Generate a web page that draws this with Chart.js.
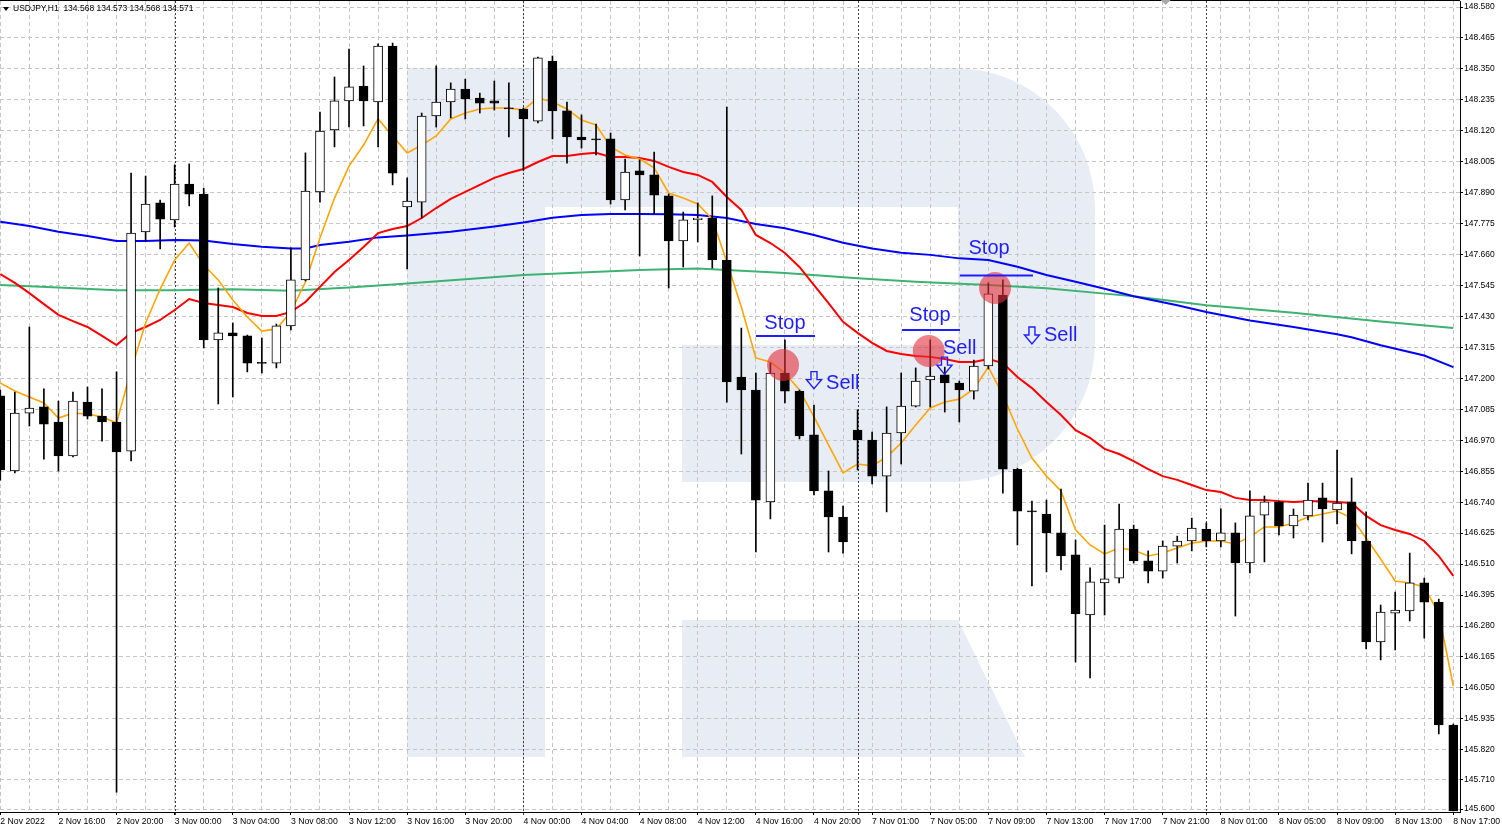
<!DOCTYPE html>
<html>
<head>
<meta charset="utf-8">
<title>USDJPY,H1</title>
<script src="https://cdn.jsdelivr.net/npm/chart.js@4.4.0/dist/chart.umd.min.js"></script>
<style>
  html, body { margin: 0; padding: 0; background: #fff; }
  #wrap { width: 1502px; height: 828px; }
</style>
</head>
<body>
<div id="wrap"><canvas id="chart" width="1502" height="828"></canvas></div>
<script>
// hourly bars, index 0 = 2 Nov 12:00 ... index 100 = 8 Nov 17:00
const opens = [
  147.135, 146.856, 147.071, 147.094, 147.038, 146.912, 147.112, 147.060, 147.038, 146.930,
  147.744, 147.852, 147.789, 147.922, 147.885, 147.343, 147.369, 147.358, 147.257, 147.257,
  147.395, 147.566, 147.893, 148.123, 148.231, 148.286, 148.227, 148.435, 147.837, 147.855,
  148.175, 148.227, 148.275, 148.242, 148.231, 148.205, 148.201, 148.156, 148.379, 148.194,
  148.097, 148.090, 148.090, 147.863, 147.971, 147.956, 147.878, 147.711, 147.789, 147.796,
  147.640, 147.205, 147.157, 146.741, 147.220, 147.153, 146.990, 146.782, 146.685, 147.008,
  146.971, 146.837, 146.997, 147.097, 147.194, 147.213, 147.183, 147.153, 147.246, 147.510,
  146.863, 146.707, 146.696, 146.626, 146.544, 146.321, 146.440, 146.458, 146.640, 146.522,
  146.484, 146.577, 146.596, 146.640, 146.596, 146.626, 146.514, 146.692, 146.741, 146.652,
  146.689, 146.756, 146.711, 146.741, 146.596, 146.221, 146.328, 146.336, 146.440, 146.369,
  145.912
];
const highs = [
  147.157, 147.149, 147.391, 147.161, 147.116, 147.149, 147.168, 147.161, 147.224, 147.963,
  147.952, 147.863, 147.993, 147.997, 147.907, 147.536, 147.406, 147.361, 147.350, 147.402,
  147.685, 148.038, 148.190, 148.320, 148.424, 148.361, 148.443, 148.446, 147.945, 148.186,
  148.361, 148.298, 148.312, 148.260, 148.305, 148.298, 148.205, 148.394, 148.398, 148.227,
  148.179, 148.145, 148.112, 148.015, 148.012, 148.041, 147.885, 147.818, 147.852, 147.878,
  148.208, 147.387, 147.220, 147.257, 147.343, 147.157, 147.101, 146.856, 146.726, 147.083,
  147.001, 147.094, 147.220, 147.239, 147.343, 147.242, 147.190, 147.268, 147.555, 147.566,
  146.867, 146.744, 146.748, 146.789, 146.600, 146.496, 146.655, 146.733, 146.655, 146.559,
  146.596, 146.614, 146.681, 146.663, 146.715, 146.663, 146.782, 146.763, 146.744, 146.715,
  146.811, 146.811, 146.934, 146.830, 146.704, 146.358, 146.406, 146.551, 146.458, 146.380,
  145.916
];
const lows = [
  146.822, 146.849, 147.023, 146.900, 146.856, 146.908, 147.049, 146.967, 145.663, 146.893,
  147.711, 147.681, 147.763, 147.841, 147.313, 147.105, 147.131, 147.224, 147.220, 147.239,
  147.380, 147.562, 147.855, 148.060, 148.134, 148.138, 148.060, 147.919, 147.607, 147.796,
  148.134, 148.168, 148.164, 148.186, 148.197, 148.097, 147.974, 148.149, 148.090, 148.000,
  148.056, 148.030, 147.848, 147.826, 147.655, 147.811, 147.536, 147.614, 147.707, 147.610,
  147.112, 146.919, 146.555, 146.678, 147.109, 146.975, 146.767, 146.555, 146.551, 146.860,
  146.808, 146.704, 146.882, 147.094, 147.094, 147.075, 147.038, 147.123, 147.235, 146.774,
  146.581, 146.429, 146.481, 146.488, 146.146, 146.087, 146.321, 146.440, 146.514, 146.440,
  146.458, 146.514, 146.559, 146.574, 146.574, 146.317, 146.477, 146.518, 146.618, 146.607,
  146.674, 146.592, 146.659, 146.548, 146.195, 146.154, 146.191, 146.299, 146.235, 145.879,
  145.593
];
const closes = [
  146.860, 147.071, 147.090, 147.030, 146.912, 147.116, 147.060, 147.038, 146.927, 147.740,
  147.848, 147.792, 147.922, 147.885, 147.343, 147.369, 147.358, 147.257, 147.256, 147.395,
  147.566, 147.896, 148.119, 148.231, 148.283, 148.231, 148.435, 147.963, 147.859, 148.175,
  148.227, 148.275, 148.238, 148.223, 148.223, 148.201, 148.164, 148.391, 148.194, 148.097,
  148.086, 148.086, 147.863, 147.967, 147.956, 147.881, 147.711, 147.789, 147.796, 147.640,
  147.187, 147.157, 146.748, 147.220, 147.153, 146.986, 146.782, 146.685, 146.592, 146.971,
  146.837, 146.997, 147.097, 147.190, 147.209, 147.183, 147.157, 147.246, 147.514, 146.863,
  146.707, 146.704, 146.626, 146.540, 146.325, 146.444, 146.455, 146.640, 146.522, 146.484,
  146.577, 146.596, 146.644, 146.596, 146.626, 146.514, 146.689, 146.741, 146.652, 146.692,
  146.748, 146.715, 146.737, 146.596, 146.221, 146.332, 146.339, 146.440, 146.369, 145.912,
  145.593
];

// moving averages
const maFast = [ // orange, one value per bar
  147.183, 147.153, 147.131, 147.109, 147.053, 147.071, 147.068, 147.057, 147.034, 147.231,
  147.406, 147.532, 147.640, 147.703, 147.621, 147.566, 147.491, 147.428, 147.376, 147.384,
  147.447, 147.558, 147.722, 147.870, 147.989, 148.067, 148.164, 148.101, 148.038, 148.067,
  148.101, 148.164, 148.186, 148.201, 148.205, 148.205, 148.197, 148.242, 148.227, 148.201,
  148.160, 148.142, 148.060, 148.030, 148.015, 147.982, 147.889, 147.870, 147.848, 147.792,
  147.633, 147.465, 147.276, 147.261, 147.220, 147.157, 147.057, 146.953, 146.849, 146.882,
  146.875, 146.908, 146.960, 147.027, 147.090, 147.112, 147.123, 147.161, 147.242, 147.138,
  147.012, 146.904, 146.837, 146.782, 146.637, 146.581, 146.548, 146.570, 146.562, 146.540,
  146.551, 146.570, 146.588, 146.596, 146.596, 146.585, 146.611, 146.648, 146.648, 146.663,
  146.685, 146.696, 146.707, 146.681, 146.607, 146.529, 146.447, 146.440, 146.425, 146.325,
  146.057
];
const maMid = [ // red, one value per bar
  147.588, 147.555, 147.517, 147.476, 147.436, 147.413, 147.391, 147.358, 147.324, 147.369,
  147.391, 147.417, 147.454, 147.495, 147.480, 147.473, 147.465, 147.443, 147.432, 147.432,
  147.447, 147.484, 147.540, 147.595, 147.640, 147.688, 147.740, 147.755, 147.766, 147.796,
  147.833, 147.867, 147.893, 147.919, 147.945, 147.963, 147.978, 148.004, 148.026, 148.026,
  148.034, 148.038, 148.023, 148.023, 148.019, 148.008, 147.986, 147.967, 147.956, 147.930,
  147.874, 147.826, 147.733, 147.703, 147.666, 147.614, 147.547, 147.480, 147.410, 147.369,
  147.332, 147.302, 147.291, 147.283, 147.280, 147.272, 147.261, 147.261, 147.272, 147.257,
  147.205, 147.164, 147.112, 147.064, 147.008, 146.979, 146.938, 146.919, 146.893, 146.863,
  146.837, 146.823, 146.804, 146.785, 146.778, 146.756, 146.748, 146.748, 146.744, 146.741,
  146.744, 146.744, 146.741, 146.737, 146.689, 146.655, 146.637, 146.622, 146.596, 146.540,
  146.466
];
const maSlowBars = [0, 2, 4, 6, 8, 10, 12, 14, 16, 18, 20, 21, 22, 24, 26, 28, 31, 34, 36, 38,
  40, 42, 44, 46, 48, 50, 52, 54, 56, 58, 60, 62, 64, 66, 68, 70, 72, 74, 76, 78,
  81, 83, 86, 89, 92, 93, 95, 98, 100];
const maSlow = [ // blue
  147.782, 147.766, 147.745, 147.729, 147.711, 147.711, 147.714, 147.712, 147.699, 147.689,
  147.683, 147.683, 147.696, 147.708, 147.724, 147.731, 147.745, 147.764, 147.779, 147.797,
  147.807, 147.811, 147.811, 147.810, 147.807, 147.796, 147.774, 147.758, 147.733, 147.704,
  147.683, 147.667, 147.659, 147.646, 147.640, 147.615, 147.584, 147.559, 147.533, 147.505,
  147.472, 147.447, 147.415, 147.391, 147.364, 147.353, 147.323, 147.285, 147.242
];
const maLongBars = [0, 4, 8, 12, 16, 20, 24, 28, 36, 44, 48, 54, 59, 63, 68, 72, 76, 78, 83, 89, 95, 100];
const maLong = [ // green
  147.547, 147.538, 147.528, 147.528, 147.531, 147.526, 147.538, 147.553, 147.584, 147.603,
  147.608, 147.592, 147.572, 147.559, 147.547, 147.535, 147.515, 147.505, 147.472, 147.444,
  147.411, 147.387
];

// axis labels
const timeLabels = [
  '2 Nov 2022', '2 Nov 16:00', '2 Nov 20:00', '3 Nov 00:00', '3 Nov 04:00', '3 Nov 08:00',
  '3 Nov 12:00', '3 Nov 16:00', '3 Nov 20:00', '4 Nov 00:00', '4 Nov 04:00', '4 Nov 08:00',
  '4 Nov 12:00', '4 Nov 16:00', '4 Nov 20:00', '7 Nov 01:00', '7 Nov 05:00', '7 Nov 09:00',
  '7 Nov 13:00', '7 Nov 17:00', '7 Nov 21:00', '8 Nov 01:00', '8 Nov 05:00', '8 Nov 09:00',
  '8 Nov 13:00', '8 Nov 17:00'
];
const priceTicks = [
  148.580, 148.465, 148.350, 148.235, 148.120, 148.005, 147.890, 147.775, 147.660,
  147.545, 147.430, 147.315, 147.200, 147.085, 146.970, 146.855, 146.740, 146.625,
  146.510, 146.395, 146.280, 146.165, 146.050, 145.935, 145.820, 145.710, 145.600
];
const daySeparators = [12, 36, 59, 83];

// trade markup (bar index, price)
const stopLines = [
  { from: 52.0, to: 56.07, price: 147.358 },
  { from: 62.06, to: 66.05, price: 147.380 },
  { from: 66.05, to: 71.07, price: 147.582 }
];
const stopTexts = [
  { bar: 54.0, price: 147.385 },
  { bar: 63.98, price: 147.414 },
  { bar: 68.05, price: 147.661 }
];
const entryCircles = [
  { bar: 53.87, price: 147.250 },
  { bar: 63.9, price: 147.302 },
  { bar: 68.46, price: 147.536 }
];
const sellTexts = [
  { bar: 56.83, price: 147.160 },
  { bar: 64.88, price: 147.290 },
  { bar: 71.83, price: 147.340 }
];
const sellArrows = [
  { bar: 56.0, price: 147.162 },
  { bar: 64.98, price: 147.216 },
  { bar: 71.0, price: 147.328 }
];

const header = 'USDJPY,H1  134.568 134.573 134.568 134.571';
const shiftMarkBar = 80.2; // grey chart-shift marker at the top edge

const barIdx = opens.map((_, i) => i);
const xTicks = [];
for (let v = 0; v <= 100; v += 2) xTicks.push(v);

const markBlue = '#1e1eff';
const gridGrey = '#c6c6c6';

// background "R" logo, pixel outline inside the plot
function drawLogo(ctx, area) {
  const ox = area.left, oy = area.top - 1;
  ctx.save();
  ctx.fillStyle = '#e8ecf4';
  ctx.beginPath();
  ctx.moveTo(ox + 407, oy + 68);
  ctx.lineTo(ox + 955, oy + 68);
  ctx.arcTo(ox + 1095, oy + 68, ox + 1095, oy + 208, 140);
  ctx.lineTo(ox + 1095, oy + 342);
  ctx.arcTo(ox + 1095, oy + 482, ox + 955, oy + 482, 140);
  ctx.lineTo(ox + 682, oy + 482);
  ctx.lineTo(ox + 682, oy + 345);
  ctx.lineTo(ox + 958, oy + 345);
  ctx.lineTo(ox + 958, oy + 207);
  ctx.lineTo(ox + 545, oy + 207);
  ctx.lineTo(ox + 545, oy + 757);
  ctx.lineTo(ox + 407, oy + 757);
  ctx.closePath();
  ctx.fill();
  ctx.beginPath();
  ctx.moveTo(ox + 682, oy + 620);
  ctx.lineTo(ox + 958, oy + 620);
  ctx.lineTo(ox + 1025, oy + 757);
  ctx.lineTo(ox + 682, oy + 757);
  ctx.closePath();
  ctx.fill();
  ctx.restore();
}

function drawDownArrow(ctx, cx, bottom) {
  const w = 15, h = 17, sw = 6, headH = 9;
  ctx.beginPath();
  ctx.moveTo(cx - sw / 2, bottom - h);
  ctx.lineTo(cx + sw / 2, bottom - h);
  ctx.lineTo(cx + sw / 2, bottom - headH);
  ctx.lineTo(cx + w / 2, bottom - headH);
  ctx.lineTo(cx, bottom);
  ctx.lineTo(cx - w / 2, bottom - headH);
  ctx.lineTo(cx - sw / 2, bottom - headH);
  ctx.closePath();
  ctx.stroke();
}

const mt4Plugin = {
  id: 'mt4',
  beforeDraw(chart) {
    drawLogo(chart.ctx, chart.chartArea);
  },
  beforeDatasetsDraw(chart) {
    const { ctx, chartArea, scales } = chart;
    // day separators
    ctx.save();
    ctx.strokeStyle = '#3c3c3c';
    ctx.lineWidth = 1;
    ctx.setLineDash([2, 2]);
    daySeparators.forEach(b => {
      const x = Math.round(scales.x.getPixelForValue(b)) + 0.5;
      ctx.beginPath();
      ctx.moveTo(x, chartArea.top);
      ctx.lineTo(x, chartArea.bottom + 3);
      ctx.stroke();
    });
    ctx.restore();
  },
  afterDatasetsDraw(chart) {
    const { ctx, scales } = chart;
    const X = v => scales.x.getPixelForValue(v);
    const Y = v => scales.y.getPixelForValue(v);
    ctx.save();
    // entry circles
    ctx.fillStyle = 'rgba(226, 46, 56, 0.6)';
    entryCircles.forEach(c => {
      ctx.beginPath();
      ctx.arc(X(c.bar), Y(c.price), 16, 0, Math.PI * 2);
      ctx.fill();
    });
    // stop lines and labels
    ctx.strokeStyle = markBlue;
    ctx.lineWidth = 2;
    stopLines.forEach(l => {
      ctx.beginPath();
      ctx.moveTo(X(l.from), Y(l.price));
      ctx.lineTo(X(l.to), Y(l.price));
      ctx.stroke();
    });
    ctx.fillStyle = markBlue;
    ctx.font = '20px "Liberation Sans", Arial, sans-serif';
    ctx.textBaseline = 'alphabetic';
    ctx.textAlign = 'center';
    stopTexts.forEach(t => ctx.fillText('Stop', X(t.bar), Y(t.price)));
    ctx.textAlign = 'left';
    sellTexts.forEach(t => ctx.fillText('Sell', X(t.bar), Y(t.price)));
    ctx.lineWidth = 1.4;
    sellArrows.forEach(a => drawDownArrow(ctx, X(a.bar), Y(a.price)));
    ctx.restore();
  },
  afterDraw(chart) {
    const { ctx, chartArea, scales } = chart;
    ctx.save();
    // top frame line
    ctx.strokeStyle = '#000';
    ctx.lineWidth = 1;
    ctx.beginPath();
    ctx.moveTo(chartArea.left, 0.5);
    ctx.lineTo(chartArea.right, 0.5);
    ctx.stroke();
    // chart shift marker
    const sx = scales.x.getPixelForValue(shiftMarkBar);
    ctx.fillStyle = '#a8a8a8';
    ctx.beginPath();
    ctx.moveTo(sx - 5, 0);
    ctx.lineTo(sx + 5, 0);
    ctx.lineTo(sx, 5);
    ctx.closePath();
    ctx.fill();
    // symbol header
    ctx.fillStyle = '#000';
    ctx.beginPath();
    ctx.moveTo(chartArea.left + 3, 7);
    ctx.lineTo(chartArea.left + 9, 7);
    ctx.lineTo(chartArea.left + 6, 11);
    ctx.closePath();
    ctx.fill();
    ctx.font = '8.5px "Liberation Sans", Arial, sans-serif';
    ctx.textBaseline = 'middle';
    ctx.textAlign = 'left';
    ctx.fillText(header, chartArea.left + 13, 9);
    ctx.restore();
  }
};

Chart.defaults.font.family = '"Liberation Sans", Arial, sans-serif';
Chart.defaults.color = '#000';

new Chart(document.getElementById('chart'), {
  type: 'bar',
  data: {
    datasets: [
      {
        label: 'bodies',
        data: barIdx.map(i => ({ x: i, y: [opens[i], closes[i]] })),
        backgroundColor: barIdx.map(i => (closes[i] > opens[i] ? '#ffffff' : '#000000')),
        borderColor: '#000000',
        borderWidth: 1,
        borderSkipped: false,
        barThickness: 9,
        minBarLength: 1,
        grouped: false,
        order: 0
      },
      {
        label: 'wicks',
        data: barIdx.map(i => ({ x: i, y: [lows[i], highs[i]] })),
        backgroundColor: '#000000',
        borderWidth: 0,
        barThickness: 1,
        grouped: false,
        order: 1
      },
      {
        type: 'line',
        label: 'MA fast',
        data: barIdx.map(i => ({ x: i, y: maFast[i] })),
        borderColor: '#ffa500',
        borderWidth: 1.6,
        pointRadius: 0,
        tension: 0,
        order: 2
      },
      {
        type: 'line',
        label: 'MA mid',
        data: barIdx.map(i => ({ x: i, y: maMid[i] })),
        borderColor: '#ff0000',
        borderWidth: 2,
        pointRadius: 0,
        tension: 0,
        order: 3
      },
      {
        type: 'line',
        label: 'MA slow',
        data: maSlowBars.map((b, k) => ({ x: b, y: maSlow[k] })),
        borderColor: '#0000ff',
        borderWidth: 2,
        pointRadius: 0,
        tension: 0,
        order: 4
      },
      {
        type: 'line',
        label: 'MA long',
        data: maLongBars.map((b, k) => ({ x: b, y: maLong[k] })),
        borderColor: '#3cb371',
        borderWidth: 2,
        pointRadius: 0,
        tension: 0,
        order: 5
      }
    ]
  },
  options: {
    responsive: false,
    devicePixelRatio: 1,
    animation: false,
    events: [],
    layout: { padding: { top: 1, left: 0, right: 0, bottom: 0 } },
    plugins: {
      legend: { display: false },
      tooltip: { enabled: false }
    },
    scales: {
      x: {
        type: 'linear',
        position: 'bottom',
        min: -0.021,
        max: 100.46,
        offset: false,
        afterBuildTicks: s => { s.ticks = xTicks.map(v => ({ value: v })); },
        afterFit: s => { s.height = 16; s.paddingLeft = 0; s.paddingRight = 0; },
        ticks: {
          autoSkip: false,
          maxRotation: 0,
          minRotation: 0,
          align: 'start',
          padding: 1,
          font: { size: 8.7 },
          color: '#000',
          callback: v => (v % 4 === 0 ? timeLabels[v / 4] : '')
        },
        grid: {
          offset: false,
          color: gridGrey,
          lineWidth: 1,
          tickLength: 3,
          tickColor: c => (c.tick && c.tick.value % 4 === 0 ? '#000' : 'rgba(0,0,0,0)')
        },
        border: { display: true, color: '#000', width: 1, dash: [4, 3] }
      },
      y: {
        type: 'linear',
        position: 'right',
        min: 145.5889,
        max: 148.6023,
        afterBuildTicks: s => { s.ticks = priceTicks.map(v => ({ value: v })); },
        afterFit: s => { s.width = 42; s.paddingTop = 0; s.paddingBottom = 0; },
        ticks: {
          autoSkip: false,
          padding: 1,
          font: { size: 8.5 },
          color: '#000',
          callback: v => v.toFixed(3)
        },
        grid: {
          color: gridGrey,
          lineWidth: 1,
          tickLength: 3,
          tickColor: '#000'
        },
        border: { display: true, color: '#000', width: 1, dash: [4, 3] }
      }
    }
  },
  plugins: [mt4Plugin]
});
</script>
</body>
</html>
